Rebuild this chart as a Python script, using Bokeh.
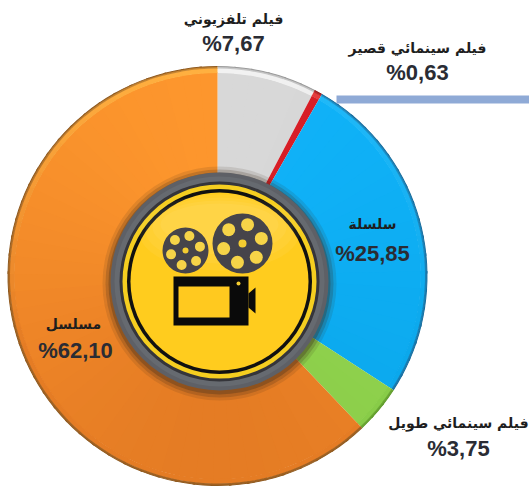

from bokeh.plotting import figure
from bokeh.embed import file_html
from bokeh.resources import INLINE
from bokeh.models import Range1d
from bokeh.core.properties import value
import math

# ---- data ----
categories = ["فيلم تلفزيوني", "فيلم سينمائي قصير", "سلسلة", "فيلم سينمائي طويل", "مسلسل"]
values = [7.67, 0.63, 25.85, 3.75, 62.10]
value_labels = ["%7,67", "%0,63", "%25,85", "%3,75", "%62,10"]
body_top = ["#D8D8D8", "#D81E26", "#10B2F8", "#A6E05A", "#FD962D"]
body_bottom = ["#CDCDCD", "#C0181E", "#0BA8EC", "#88CC48", "#E57C24"]
rim = ["#9A9A9A", "#8E1518", "#1A6C9C", "#5F9A2A", "#8F5A20"]
light = ["#F2F2F2", "#E84040", "#22BAFA", "#B4E86C", "#FFB040"]
name_x = [233, 417, 372, 458, 73]
name_y = [18, 47, 223, 422, 323]
pct_x = [233, 417, 372, 458, 75]
pct_y = [43, 72, 253, 448, 350]

W, H = 529, 493
p = figure(width=W, height=H, output_backend="svg", toolbar_location=None,
           x_range=Range1d(0, W), y_range=Range1d(H, 0), outline_line_color=None,
           min_border=0)
p.xaxis.visible = False
p.yaxis.visible = False
p.grid.visible = False

CX, CY, R = 217, 275.5, 210
HX, HY = 219, 281


def mix(a, b, t):
    ca = [int(a[i:i+2], 16) for i in (1, 3, 5)]
    cb = [int(b[i:i+2], 16) for i in (1, 3, 5)]
    return "#%02x%02x%02x" % tuple(round(x + (y - x) * t) for x, y in zip(ca, cb))


total = sum(values)
for i, v in enumerate(values):
    f0 = sum(values[:i]) / total
    f1 = sum(values[:i + 1]) / total
    n = max(1, round((f1 - f0) * 72))
    for k in range(n):
        s0 = f0 + (f1 - f0) * k / n
        s1 = f0 + (f1 - f0) * (k + 1) / n
        th = (s0 + s1) * math.pi
        shade = (1 - math.cos(th)) / 2
        b = mix(body_top[i], body_bottom[i], shade)
        hi = mix(light[i], body_bottom[i], min(1, shade * 1.5))
        a0 = math.pi / 2 - s0 * 2 * math.pi
        a1 = math.pi / 2 - s1 * 2 * math.pi - (0.012 if k < n - 1 else 0)
        bands = [(80, R - 6.5, b), (R - 7, R - 2, hi), (R - 2.5, R - 0.5, mix(hi, rim[i], 0.5 + 0.3 * shade)),
                 (R - 1, R, rim[i])]
        for r0, r1, c in bands:
            p.annular_wedge(x=[CX], y=[CY], inner_radius=r0, outer_radius=r1, start_angle=a0, end_angle=a1,
                            direction="clock", fill_color=c, line_color=None)

# blue rule
p.line(x=[336, 529], y=[99, 99], line_color="#8FAAD6", line_width=8)

# shadow beneath the hub
for rr, al in [(117, 0.12), (114, 0.2), (111, 0.3)]:
    p.circle(x=[HX], y=[HY + 2], radius=rr, fill_color="#3A2A1A", fill_alpha=al, line_color=None)

# hub rings
for rr, col in [(109, "#5E6066"), (105, "#666A70"), (100, "#35353A"), (97, "#F5CE20"), (92.5, "#111111"),
                (89, "#FFCC1E")]:
    p.circle(x=[HX], y=[HY], radius=rr, fill_color=col, line_color=None)
for wd, ht, cy, al in [(160, 76, 232, 0.05), (148, 66, 230, 0.05), (134, 54, 227, 0.05), (118, 42, 224, 0.05)]:
    p.ellipse(x=[HX], y=[cy], width=wd, height=ht, fill_color="#FFFFFF", fill_alpha=al, line_color=None)

# reels
for cx, cy, r, hr, cr in [(242, 243, 30, 6.5, 4), (185, 250, 23, 5, 3)]:
    p.circle(x=[cx], y=[cy], radius=r, fill_color="#46444A", line_color=None)
    p.circle(x=[cx], y=[cy], radius=cr, fill_color="#F4CC30", line_color=None)
    for k in range(6):
        t = math.radians(45 + 60 * k)
        p.circle(x=[cx + 0.65 * r * math.cos(t)], y=[cy + 0.65 * r * math.sin(t)], radius=hr,
                 fill_color="#F6D448", line_color=None)

# camera
p.quad(left=[173], right=[248], top=[276], bottom=[325], fill_color="#0A0A0A", line_color=None)
p.quad(left=[178], right=[229], top=[286], bottom=[317], fill_color="#FFC91F", line_color=None)
p.patch(x=[248, 255, 255, 248], y=[293, 287, 313, 307], fill_color="#0A0A0A", line_color=None)
p.circle(x=[238], y=[283], radius=2, fill_color="#F4CC30", line_color=None)

# labels
p.text(x=name_x, y=name_y, text=categories, text_font=value("DejaVu Sans"),
       text_font_size="14px", text_font_style="bold", text_align="center", text_baseline="middle",
       text_color="#1E1E1E")
p.text(x=pct_x, y=pct_y, text=value_labels, text_font=value("Liberation Sans"),
       text_font_size="22px", text_font_style="bold", text_align="center", text_baseline="middle",
       text_color="#2A2C34")

open("out.html", "w").write(file_html(p, INLINE))
